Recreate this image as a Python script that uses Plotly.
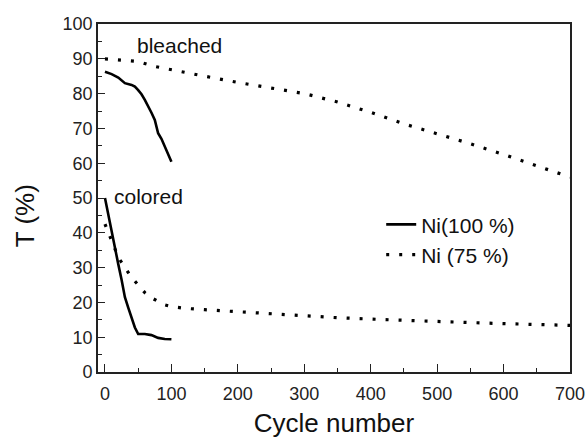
import plotly.graph_objects as go

# Ni(100 %) film: transmittance in bleached and colored states
ni100_cycles = [0, 10, 20, 30, 40, 45, 50, 55, 60, 65, 70, 75, 80, 85, 90, 95, 100]
ni100_bleached = [86.3, 85.6, 84.6, 83.0, 82.5, 82.0, 81.0, 79.8, 78.2, 76.5, 74.5, 72.4, 68.6, 67.0, 64.7, 62.5, 60.4]

ni100_col_cycles = [0, 5, 10, 15, 20, 25, 30, 35, 40, 45, 50, 60, 70, 80, 90, 100]
ni100_colored = [50.0, 45.0, 40.0, 35.5, 31.0, 26.5, 21.5, 18.5, 15.5, 12.8, 10.9, 10.9, 10.6, 9.8, 9.5, 9.4]

# Ni(75 %) film: transmittance in bleached and colored states
ni75_cycles = [0, 25, 50, 75, 100, 150, 200, 250, 300, 350, 400, 450, 500, 550, 600, 650, 700]
ni75_bleached = [90.0, 89.5, 89.2, 87.8, 86.8, 85.0, 83.2, 81.6, 80.0, 77.6, 74.6, 71.3, 68.5, 65.6, 62.5, 59.3, 56.0]

ni75_col_cycles = [0, 10, 20, 30, 40, 50, 60, 70, 80, 90, 100, 120, 150, 200, 250, 300, 350, 400, 450, 500, 550, 600, 650, 700]
ni75_colored = [42.5, 37.5, 33.0, 30.0, 27.2, 25.0, 22.8, 21.3, 20.2, 19.3, 18.8, 18.3, 17.9, 17.3, 16.7, 16.1, 15.6, 15.2, 14.8, 14.5, 14.2, 13.9, 13.7, 13.4]

x_ticks = [0, 100, 200, 300, 400, 500, 600, 700]
y_ticks = [0, 10, 20, 30, 40, 50, 60, 70, 80, 90, 100]

FONT = "Liberation Sans, Arial, sans-serif"
solid = dict(color="black", width=2.6)
dotted = dict(color="black", width=3.2, dash="3px,10px")

fig = go.Figure()
fig.add_trace(go.Scatter(x=ni100_cycles, y=ni100_bleached, mode="lines", line=solid,
                         name="Ni(100 %)", legendgroup="a"))
fig.add_trace(go.Scatter(x=ni100_col_cycles, y=ni100_colored, mode="lines", line=solid,
                         name="Ni(100 %)", legendgroup="a", showlegend=False))
fig.add_trace(go.Scatter(x=ni75_cycles, y=ni75_bleached, mode="lines", line=dotted,
                         name="Ni (75 %)", legendgroup="b"))
fig.add_trace(go.Scatter(x=ni75_col_cycles, y=ni75_colored, mode="lines", line=dotted,
                         name="Ni (75 %)", legendgroup="b", showlegend=False))

axis_common = dict(
    showline=True, linecolor="#222", linewidth=1.6, mirror=True,
    ticks="inside", tickcolor="#222", tickwidth=1.4,
    showgrid=False, zeroline=False, automargin=False,
    tickfont=dict(family=FONT, size=18, color="#222"),
)

fig.update_xaxes(
    range=[-10.5, 700], tickvals=x_ticks, ticklen=8, ticklabelstandoff=5,
    minor=dict(ticks="inside", dtick=50, ticklen=4, tickcolor="#222", tickwidth=1.2),
    title=dict(text="Cycle number", font=dict(family=FONT, size=26, color="#111"), standoff=29),
    **axis_common,
)
fig.update_yaxes(
    range=[0, 100], tickvals=y_ticks, ticklen=7,
    minor=dict(ticks="inside", dtick=5, ticklen=4, tickcolor="#222", tickwidth=1.2),
    **axis_common,
)

fig.add_annotation(x=45, y=93.8, xref="x", yref="y", text="bleached", showarrow=False,
                   xanchor="left", yanchor="middle", font=dict(family=FONT, size=21, color="#111"))
fig.add_annotation(x=10, y=50.5, xref="x", yref="y", text="colored", showarrow=False,
                   xanchor="left", yanchor="middle", font=dict(family=FONT, size=21, color="#111"))
fig.add_annotation(x=-0.153, y=0.45, xref="paper", yref="paper", text="T (%)", showarrow=False,
                   textangle=-90, xanchor="center", yanchor="middle",
                   font=dict(family=FONT, size=26, color="#111"))

fig.update_layout(
    width=586, height=438,
    margin=dict(l=98, r=16, t=24, b=66),
    paper_bgcolor="white", plot_bgcolor="white",
    showlegend=True,
    legend=dict(x=0.6, y=0.38, xanchor="left", yanchor="middle",
                bgcolor="rgba(0,0,0,0)", tracegroupgap=0,
                font=dict(family=FONT, size=21, color="#111")),
)

fig.write_html("out.html")
